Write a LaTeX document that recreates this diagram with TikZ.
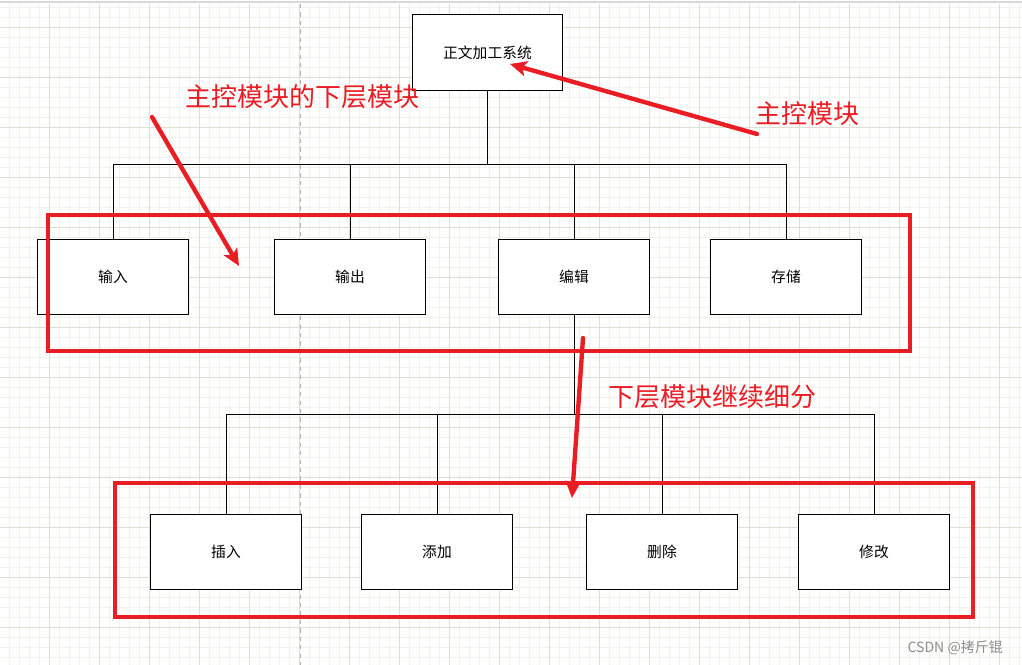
\documentclass[tikz,border=0pt]{standalone}
\usepackage{fontspec}
\setmainfont{Noto Sans CJK SC}
\usetikzlibrary{arrows.meta}
\definecolor{markred}{RGB}{234,28,36}
\definecolor{gridminor}{RGB}{242,242,236}
\definecolor{gridmajor}{RGB}{222,222,210}

\begin{document}
\begin{tikzpicture}[x=0.025cm, y=-0.025cm, >={Stealth[length=4.2mm, width=3.8mm, inset=1mm]},
  every node/.style={font=\fontsize{10.5}{12}\selectfont},
  modbox/.style={draw, line width=0.7pt, fill=white, minimum width=3.75cm, minimum height=1.875cm, inner sep=0pt},
  tree/.style={line width=0.7pt},
  markbox/.style={draw=markred, line width=2.4pt},
  markarrow/.style={->, draw=markred, line width=3.1pt, line cap=round},
  marklabel/.style={text=markred, font=\fontsize{18.5}{20}\selectfont, inner sep=0pt}]
  \useasboundingbox (0,0) rectangle (1022,665);
  \fill[white] (0,0) rectangle (1022,665);
  % background grid
  \foreach \gx in {9.5,19.5,...,1022} \draw[gridminor, line width=0.4pt] (\gx,4) -- (\gx,665);
  \foreach \gy in {7,17,...,665} \draw[gridminor, line width=0.4pt] (0,\gy) -- (1022,\gy);
  \foreach \gx in {49.5,99.5,...,1022} \draw[gridmajor, line width=0.6pt] (\gx,4) -- (\gx,665);
  \foreach \gy in {27,77,...,665} \draw[gridmajor, line width=0.6pt] (0,\gy) -- (1022,\gy);
  \draw[black!15, line width=1pt] (0,2) -- (1022,2);
  \draw[black!30, dashed, line width=0.7pt] (300,4) -- (300,665);

  % modules
  \node[modbox] (root) at (487.5,52.5) {正文加工系统};
  \node[modbox] (input) at (113,277) {输入};
  \node[modbox] (output) at (350,277) {输出};
  \node[modbox] (edit) at (574,277) {编辑};
  \node[modbox] (store) at (786,277) {存储};
  \node[modbox] (insert) at (226,551.5) {插入};
  \node[modbox] (append) at (437,551.5) {添加};
  \node[modbox] (delete) at (662,551.5) {删除};
  \node[modbox] (modify) at (874,551.5) {修改};

  \coordinate (bus1) at (487.5,164);
  \coordinate (bus2) at (574,414);
  \draw[tree] (root.south) -- (bus1);
  \foreach \m in {input,output,edit,store} \draw[tree] (bus1) -| (\m.north);
  \draw[tree] (edit.south) -- (bus2);
  \foreach \m in {insert,append,delete,modify} \draw[tree] (bus2) -| (\m.north);

  % red marks
  \draw[markbox] (48,215) rectangle (910,351);
  \draw[markbox] (115,483) rectangle (973,617);
  \node[marklabel, anchor=west] (sublabel) at (185,97) {主控模块的下层模块};
  \node[marklabel, anchor=west] (mainlabel) at (755,114) {主控模块};
  \node[marklabel, anchor=west] (splitlabel) at (608,397) {下层模块继续细分};
  \coordinate (a1s) at (152,117);
  \coordinate (a1e) at (239,266);
  \coordinate (a2s) at (757,134);
  \coordinate (a2e) at (510,64);
  \coordinate (a3s) at (583,338);
  \coordinate (a3e) at (572,498);
  \draw[markarrow] (a1s) -- (a1e);
  \draw[markarrow] (a2s) -- (a2e);
  \draw[markarrow] (a3s) -- (a3e);

  \node[text=black!45, font=\fontsize{10}{12}\selectfont, anchor=east] (mark) at (1008,648) {CSDN @拷斤锟};
\end{tikzpicture}
\end{document}
